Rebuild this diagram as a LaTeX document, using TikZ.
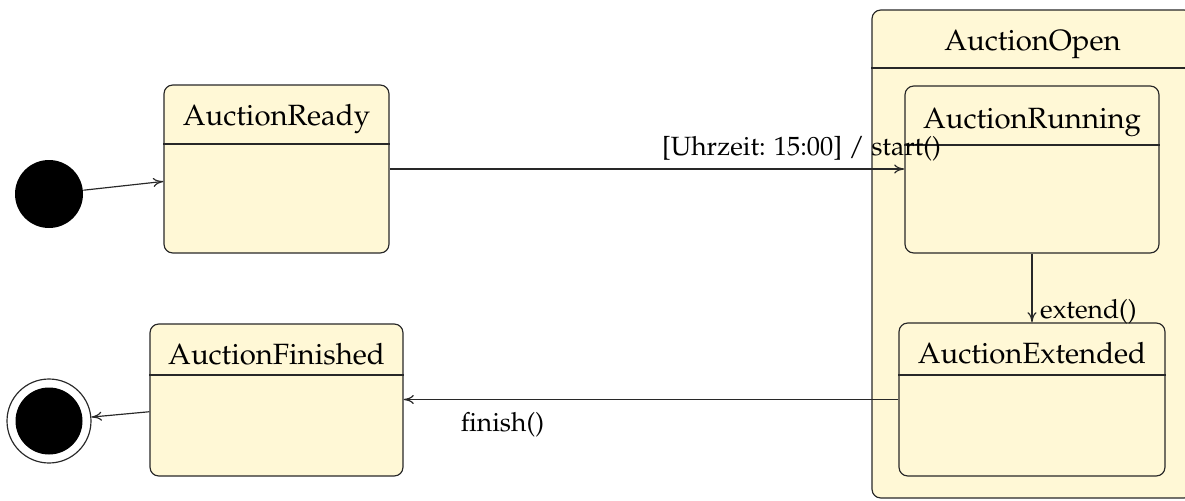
\documentclass[tikz,border=0pt]{standalone}
\usepackage[T1]{fontenc}
\usepackage{mathpazo}
\usetikzlibrary{fit,arrows.meta}
\definecolor{statefill}{RGB}{255,248,214}
\definecolor{edge}{RGB}{40,40,40}
\begin{document}
\begin{tikzpicture}[x=0.3411pt, y=-0.3411pt,
  state/.style={draw=edge, fill=statefill, rounded corners=3pt, inner sep=0pt},
  title/.style={anchor=base, inner sep=0pt},
  sep/.style={draw=edge},
  tr/.style={draw=edge, -{To[length=3.5pt, width=3.1pt]}},
  lbl/.style={font=\small, inner sep=2.6pt},
  pseudo/.style={circle, fill=black, inner sep=0pt}]
\useasboundingbox (0,0) rectangle (1185,501);

% composite state
\node[state, fit={(872,10) (1193,498)}] (open) {};
\node[title] (openT) at (1032.5,50.7) {AuctionOpen};
\draw[sep] (open.west |- 0,68) -- (open.east |- 0,68);

\node[state, fit={(905,86) (1159,253)}] (running) {};
\node[title] (runningT) at (1032,128) {AuctionRunning};
\draw[sep] (running.west |- 0,145) -- (running.east |- 0,145);

\node[state, fit={(899,323) (1165,476)}] (extended) {};
\node[title] (extendedT) at (1032,363) {AuctionExtended};
\draw[sep] (extended.west |- 0,375) -- (extended.east |- 0,375);

% simple states
\node[state, fit={(164,85) (389,253)}] (ready) {};
\node[title] (readyT) at (276.5,125.7) {AuctionReady};
\draw[sep] (ready.west |- 0,144) -- (ready.east |- 0,144);

\node[state, fit={(150,324) (403,476)}] (finished) {};
\node[title] (finishedT) at (276.5,364) {AuctionFinished};
\draw[sep] (finished.west |- 0,375) -- (finished.east |- 0,375);

% pseudo states
\node[pseudo, minimum size=68*0.3411pt] (init) at (49,194) {};
\node[circle, draw=edge, fill=white, inner sep=0pt, minimum size=84*0.3411pt] (final) at (49,421) {};
\node[pseudo, minimum size=67*0.3411pt] (finalIn) at (final.center) {};

% transitions
\draw[tr] (init) -- (ready);
\draw[tr] (ready.east) -- (running.west |- ready.east)
  node[lbl, pos=0.8, above] (startL) {[Uhrzeit: 15:00] / start()};
\draw[tr] (running) -- (extended)
  node[lbl, pos=0.84, right] (extendL) {extend()};
\draw[tr] (extended.west) -- (finished.east |- extended.west)
  node[lbl, pos=0.8, below, yshift=-1.6pt] (finishL) {finish()};
\draw[tr] (finished) -- (final);
\end{tikzpicture}
\end{document}
